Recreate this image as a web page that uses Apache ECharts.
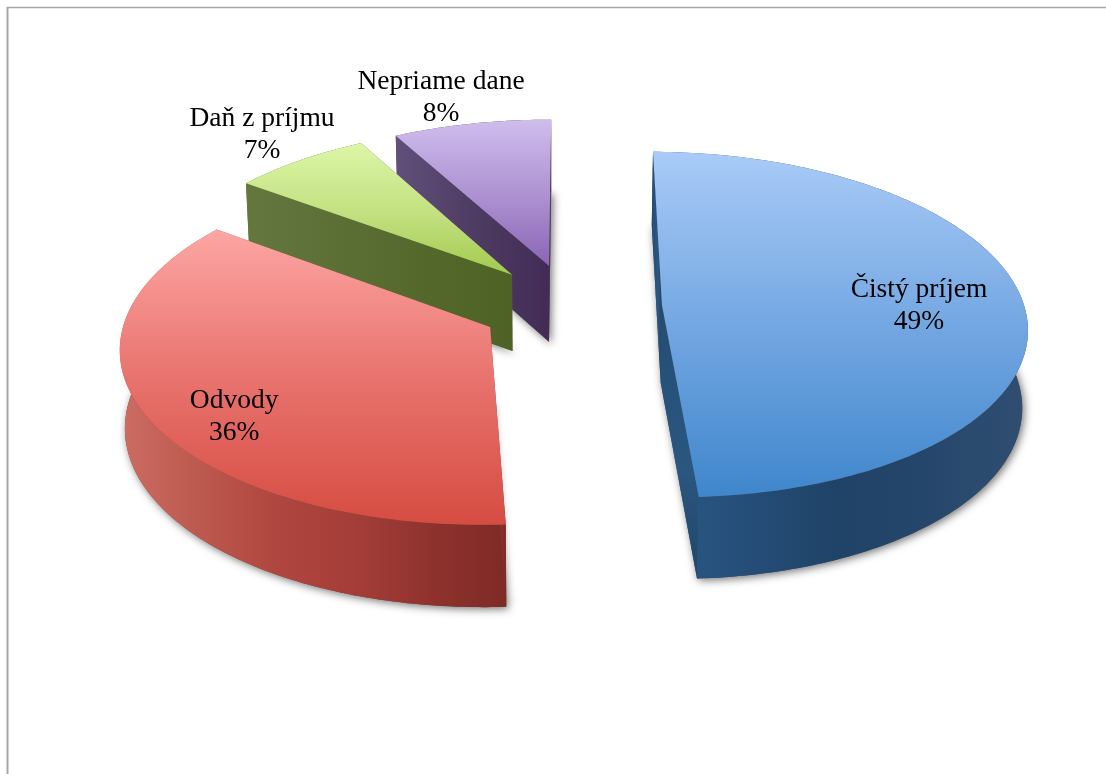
<!DOCTYPE html>
<html>
<head>
<meta charset="utf-8">
<style>html,body{margin:0;padding:0;background:#fff}#c{width:1106px;height:774px}</style>
<script src="https://cdn.jsdelivr.net/npm/echarts@6/dist/echarts.min.js"></script>
</head>
<body>
<div id="c"></div>
<script>
const categories = ['Čistý príjem', 'Odvody', 'Daň z príjmu', 'Nepriame dane'];
const shares = [49, 36, 7, 8];

const topColors = [
  [[0,'#a9cbf7'],[0.5,'#74a7e2'],[1,'#3f86cc']],
  [[0,'#fda6a3'],[0.5,'#e8736e'],[1,'#d64c41']],
  [[0,'#ddf6a8'],[0.55,'#c2e07f'],[1,'#a2c94e']],
  [[0,'#cfbdec'],[0.55,'#ab8fd0'],[1,'#8a65b4']]
];
const wallColors = [
  [[0,'#1f4668'],[0.13,'#27547f'],[0.3,'#244b75'],[0.5,'#1f4366'],[0.72,'#25466b'],[0.85,'#2a4a6e'],[1,'#2f4e70']],
  [[0,'#cc6c62'],[0.2,'#bd5a50'],[0.4,'#b0463f'],[0.6,'#a53e38'],[0.8,'#90322e'],[1,'#7e2b25']],
  [[0,'#64773f'],[0.5,'#586b30'],[1,'#4d6224']],
  [[0,'#60507a'],[0.5,'#4f3c62'],[1,'#412c55']]
];
const edgeColors = [
  [[0,'#224d75'],[0.6,'#2b567f'],[1,'#1f466c']],
  [[0,'#a0403a'],[1,'#7e2b25']],
  [[0,'#64773f'],[0.5,'#586b30'],[1,'#4d6224']],
  [[0,'#60507a'],[0.5,'#4f3c62'],[1,'#412c55']]
];
const labelOffsets = [[257, 0], [-256, 90], [-250, -140], [-108, -168]];

const view = {vx: 549, vy: -1233, u: 1538, d: 3265, R: 362, depth: 77, shrink: 0.988, turn: 0.4 * Math.PI / 180};
const pieCentre = {X: 22, Y: -3}, explode = 91;
const total = shares.reduce((a, b) => a + b, 0);

function project(X, Y, lower) {
  const s = 1 / (1 + Y / view.d);
  const y = view.vy + view.u * s;
  if (!lower) return [view.vx + X * s, y];
  return [view.vx + X * s * view.shrink, y + view.depth * Math.sqrt(s)];
}
function sliceGeom(i) {
  let acc = 0;
  for (let k = 0; k < i; k++) acc += shares[k];
  const a0 = acc / total * 2 * Math.PI + view.turn, a1 = (acc + shares[i]) / total * 2 * Math.PI + view.turn;
  const mid = (a0 + a1) / 2;
  const cX = pieCentre.X + explode * Math.sin(mid), cY = pieCentre.Y + explode * Math.cos(mid);
  const arc = [];
  const n = Math.max(8, Math.round((a1 - a0) * 180 / Math.PI));
  for (let k = 0; k <= n; k++) {
    const a = a0 + (a1 - a0) * k / n;
    arc.push([cX + view.R * Math.sin(a), cY + view.R * Math.cos(a)]);
  }
  return {cX, cY, arc};
}
function grad(stops, horizontal) {
  return new echarts.graphic.LinearGradient(0, 0, horizontal ? 1 : 0, horizontal ? 0 : 1,
    stops.map(s => ({offset: s[0], color: s[1]})));
}
function renderSlice(params, api) {
  const i = api.value(0);
  const g = sliceGeom(i);
  const apexT = project(g.cX, g.cY, false), apexB = project(g.cX, g.cY, true);
  const arcT = g.arc.map(p => project(p[0], p[1], false));
  const arcB = g.arc.map(p => project(p[0], p[1], true));
  const last = arcT.length - 1;
  const children = [
    {type: 'polygon', shape: {points: [apexB].concat(arcB)},
      style: {fill: '#555', shadowBlur: 9, shadowColor: 'rgba(0,0,0,0.55)', shadowOffsetX: 2, shadowOffsetY: 2}},
    {type: 'polygon', shape: {points: [apexT, arcT[last], arcB[last], apexB]},
      style: {fill: grad(edgeColors[i], false)}},
    {type: 'polygon', shape: {points: arcT.concat(arcB.slice().reverse())},
      style: {fill: grad(wallColors[i], true)}},
    {type: 'polygon', shape: {points: [apexT, arcT[0], arcB[0], apexB]},
      style: {fill: grad(edgeColors[i], true)}},
    {type: 'polygon', shape: {points: [apexT].concat(arcT)},
      style: {fill: grad(topColors[i], false)}},
    {type: 'text', z2: 10,
      style: {
        x: apexT[0] + labelOffsets[i][0], y: apexT[1] + labelOffsets[i][1],
        text: categories[i] + '\n' + shares[i] + '%',
        fill: '#000', font: '27.5px "Liberation Serif"', lineHeight: 32,
        align: 'center', verticalAlign: 'middle'
      }}
  ];
  return {type: 'group', children};
}
const chart = echarts.init(document.getElementById('c'), null, {renderer: 'canvas'});
chart.setOption({
  animation: false,
  backgroundColor: '#fff',
  graphic: [
    {type: 'line', shape: {x1: 7, y1: 7.5, x2: 1106, y2: 7.5}, style: {stroke: '#a6a6a6', lineWidth: 1.5}},
    {type: 'line', shape: {x1: 7.5, y1: 7, x2: 7.5, y2: 774}, style: {stroke: '#a6a6a6', lineWidth: 2}}
  ],
  series: [{
    type: 'custom',
    coordinateSystem: 'none',
    renderItem: renderSlice,
    data: shares.map((v, i) => [i, v]).reverse(),
    encode: {value: 1},
    silent: true,
    clip: false
  }]
});
</script>
</body>
</html>
